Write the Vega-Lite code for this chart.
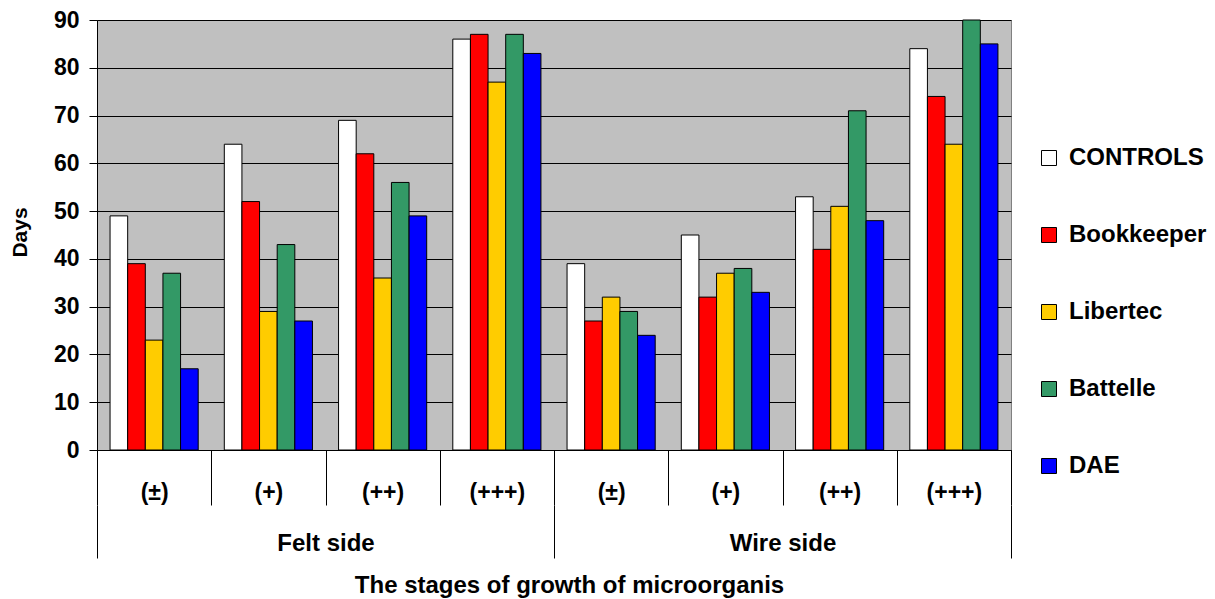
{
  "$schema": "https://vega.github.io/schema/vega-lite/v6.json",
  "width": 914,
  "height": 430,
  "autosize": {"type": "none"},
  "padding": {"left": 97, "top": 20, "right": 204, "bottom": 149},
  "background": "white",
  "config": {
    "font": "Liberation Sans",
    "view": {"fill": "#C0C0C0", "stroke": "#808080", "strokeWidth": 1}
  },
  "data": {
    "values": [
      {"group": "Felt side", "stage": "(±)", "key": "Felt side|(±)", "series": "CONTROLS", "value": 49},
      {"group": "Felt side", "stage": "(±)", "key": "Felt side|(±)", "series": "Bookkeeper", "value": 39},
      {"group": "Felt side", "stage": "(±)", "key": "Felt side|(±)", "series": "Libertec", "value": 23},
      {"group": "Felt side", "stage": "(±)", "key": "Felt side|(±)", "series": "Battelle", "value": 37},
      {"group": "Felt side", "stage": "(±)", "key": "Felt side|(±)", "series": "DAE", "value": 17},
      {"group": "Felt side", "stage": "(+)", "key": "Felt side|(+)", "series": "CONTROLS", "value": 64},
      {"group": "Felt side", "stage": "(+)", "key": "Felt side|(+)", "series": "Bookkeeper", "value": 52},
      {"group": "Felt side", "stage": "(+)", "key": "Felt side|(+)", "series": "Libertec", "value": 29},
      {"group": "Felt side", "stage": "(+)", "key": "Felt side|(+)", "series": "Battelle", "value": 43},
      {"group": "Felt side", "stage": "(+)", "key": "Felt side|(+)", "series": "DAE", "value": 27},
      {"group": "Felt side", "stage": "(++)", "key": "Felt side|(++)", "series": "CONTROLS", "value": 69},
      {"group": "Felt side", "stage": "(++)", "key": "Felt side|(++)", "series": "Bookkeeper", "value": 62},
      {"group": "Felt side", "stage": "(++)", "key": "Felt side|(++)", "series": "Libertec", "value": 36},
      {"group": "Felt side", "stage": "(++)", "key": "Felt side|(++)", "series": "Battelle", "value": 56},
      {"group": "Felt side", "stage": "(++)", "key": "Felt side|(++)", "series": "DAE", "value": 49},
      {"group": "Felt side", "stage": "(+++)", "key": "Felt side|(+++)", "series": "CONTROLS", "value": 86},
      {"group": "Felt side", "stage": "(+++)", "key": "Felt side|(+++)", "series": "Bookkeeper", "value": 87},
      {"group": "Felt side", "stage": "(+++)", "key": "Felt side|(+++)", "series": "Libertec", "value": 77},
      {"group": "Felt side", "stage": "(+++)", "key": "Felt side|(+++)", "series": "Battelle", "value": 87},
      {"group": "Felt side", "stage": "(+++)", "key": "Felt side|(+++)", "series": "DAE", "value": 83},
      {"group": "Wire side", "stage": "(±)", "key": "Wire side|(±)", "series": "CONTROLS", "value": 39},
      {"group": "Wire side", "stage": "(±)", "key": "Wire side|(±)", "series": "Bookkeeper", "value": 27},
      {"group": "Wire side", "stage": "(±)", "key": "Wire side|(±)", "series": "Libertec", "value": 32},
      {"group": "Wire side", "stage": "(±)", "key": "Wire side|(±)", "series": "Battelle", "value": 29},
      {"group": "Wire side", "stage": "(±)", "key": "Wire side|(±)", "series": "DAE", "value": 24},
      {"group": "Wire side", "stage": "(+)", "key": "Wire side|(+)", "series": "CONTROLS", "value": 45},
      {"group": "Wire side", "stage": "(+)", "key": "Wire side|(+)", "series": "Bookkeeper", "value": 32},
      {"group": "Wire side", "stage": "(+)", "key": "Wire side|(+)", "series": "Libertec", "value": 37},
      {"group": "Wire side", "stage": "(+)", "key": "Wire side|(+)", "series": "Battelle", "value": 38},
      {"group": "Wire side", "stage": "(+)", "key": "Wire side|(+)", "series": "DAE", "value": 33},
      {"group": "Wire side", "stage": "(++)", "key": "Wire side|(++)", "series": "CONTROLS", "value": 53},
      {"group": "Wire side", "stage": "(++)", "key": "Wire side|(++)", "series": "Bookkeeper", "value": 42},
      {"group": "Wire side", "stage": "(++)", "key": "Wire side|(++)", "series": "Libertec", "value": 51},
      {"group": "Wire side", "stage": "(++)", "key": "Wire side|(++)", "series": "Battelle", "value": 71},
      {"group": "Wire side", "stage": "(++)", "key": "Wire side|(++)", "series": "DAE", "value": 48},
      {"group": "Wire side", "stage": "(+++)", "key": "Wire side|(+++)", "series": "CONTROLS", "value": 84},
      {"group": "Wire side", "stage": "(+++)", "key": "Wire side|(+++)", "series": "Bookkeeper", "value": 74},
      {"group": "Wire side", "stage": "(+++)", "key": "Wire side|(+++)", "series": "Libertec", "value": 64},
      {"group": "Wire side", "stage": "(+++)", "key": "Wire side|(+++)", "series": "Battelle", "value": 90},
      {"group": "Wire side", "stage": "(+++)", "key": "Wire side|(+++)", "series": "DAE", "value": 85}
    ]
  },
  "layer": [
    {
      "mark": {"type": "bar", "stroke": "black", "strokeWidth": 1},
      "encoding": {
        "x": {
          "field": "key",
          "type": "nominal",
          "sort": null,
          "scale": {"paddingInner": 0, "paddingOuter": 0},
          "axis": {
            "orient": "bottom",
            "title": null,
            "labelExpr": "split(datum.label, '|')[1]",
            "labelAngle": 0,
            "labelFont": "Liberation Sans",
            "labelFontWeight": "bold",
            "labelFontSize": 23,
            "labelColor": "black",
            "labelBaseline": "middle",
            "labelPadding": -13,
            "tickBand": "extent",
            "tickSize": 55,
            "tickColor": "black",
            "tickWidth": 1,
            "domainColor": "black",
            "domainWidth": 1
          }
        },
        "xOffset": {
          "field": "series",
          "type": "nominal",
          "sort": ["CONTROLS", "Bookkeeper", "Libertec", "Battelle", "DAE"],
          "scale": {"paddingInner": 0, "paddingOuter": 0.74}
        },
        "y": {
          "field": "value",
          "type": "quantitative",
          "scale": {"domain": [0, 90], "nice": false},
          "axis": {
            "title": "Days",
            "values": [0, 10, 20, 30, 40, 50, 60, 70, 80, 90],
            "labelFont": "Liberation Sans",
            "labelFontWeight": "bold",
            "labelFontSize": 23,
            "labelColor": "black",
            "labelPadding": 10,
            "tickSize": 8,
            "tickColor": "black",
            "domainColor": "black",
            "grid": true,
            "gridColor": "black",
            "gridWidth": 1,
            "gridOpacity": 1,
            "titleFont": "Liberation Sans",
            "titleFontWeight": "bold",
            "titleFontSize": 21,
            "titleColor": "black",
            "titleX": -77,
            "titleY": 212,
            "titleBaseline": "middle",
            "titleAlign": "center"
          }
        },
        "color": {
          "field": "series",
          "type": "nominal",
          "sort": ["CONTROLS", "Bookkeeper", "Libertec", "Battelle", "DAE"],
          "scale": {
            "domain": ["CONTROLS", "Bookkeeper", "Libertec", "Battelle", "DAE"],
            "range": ["#FFFFFF", "#FF0000", "#FFCC00", "#339966", "#0000FF"]
          },
          "legend": {
            "title": null,
            "orient": "none",
            "legendX": 940,
            "legendY": 126,
            "padding": 0,
            "symbolType": "square",
            "symbolSize": 225,
            "symbolStrokeColor": "black",
            "symbolStrokeWidth": 1,
            "symbolOpacity": 1,
            "labelFont": "Liberation Sans",
            "labelFontWeight": "bold",
            "labelFontSize": 24,
            "labelColor": "black",
            "labelOffset": 8,
            "labelLimit": 300,
            "rowPadding": 53
          }
        }
      }
    },
    {
      "mark": {"type": "bar", "opacity": 0},
      "encoding": {
        "x": {
          "field": "group",
          "type": "nominal",
          "sort": null,
          "scale": {"paddingInner": 0, "paddingOuter": 0},
          "axis": {
            "orient": "bottom",
            "offset": 55,
            "domain": false,
            "labelAngle": 0,
            "labelFont": "Liberation Sans",
            "labelFontWeight": "bold",
            "labelFontSize": 24,
            "labelColor": "black",
            "labelBaseline": "middle",
            "labelPadding": -15,
            "tickBand": "extent",
            "tickSize": 53,
            "tickColor": "black",
            "tickWidth": 1,
            "title": "The stages of growth of microorganis",
            "titleFont": "Liberation Sans",
            "titleFontWeight": "bold",
            "titleFontSize": 24,
            "titleColor": "black",
            "titleX": 472,
            "titleY": 80,
            "titleBaseline": "middle",
            "titleAlign": "center"
          }
        }
      }
    }
  ],
  "resolve": {"scale": {"x": "independent"}}
}
